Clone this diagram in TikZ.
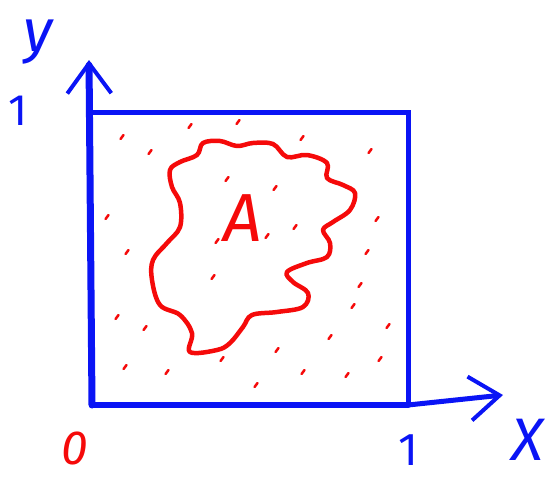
\documentclass[tikz,border=0pt]{standalone}
\usepackage{fontspec}
\newfontfamily\handfont{Fira Sans}
\usetikzlibrary{arrows.meta}
\definecolor{penblue}{HTML}{0A14F5}
\definecolor{penred}{HTML}{F50A0A}

\begin{document}
\begin{tikzpicture}[x=1pt, y=-1pt,
  axis/.style={penblue, line width=5pt, line cap=round,
    -{Straight Barb[length=30pt, width=44pt, line width=4pt]}},
  boxline/.style={penblue, line width=5pt, line cap=round},
  blob/.style={penred, line width=4.5pt, line join=round},
  speck/.style={penred, line width=2.5pt, line cap=round},
  handlabel/.style={font=\handfont\itshape, inner sep=0pt}]

\useasboundingbox (0,0) rectangle (555,479);

% Corners of the unit square
\coordinate (O)   at (92,405);
\coordinate (X1)  at (408,405);
\coordinate (Y1)  at (92,112);
\coordinate (XY1) at (408,112);
\coordinate (ytip) at (89,60);
\coordinate (xtip) at (503,395);

% Square
\draw[boxline] (Y1) -- (XY1) -- (X1);
\draw[boxline, line width=6pt] (O) -- (X1);

% Axes
\draw[axis, line width=7pt] (O) -- (ytip);
\draw[axis] (X1) -- (xtip);

% Random points in the square
\foreach \px/\py in {122/137, 150/152, 190/126, 238/122, 302/138, 370/151,
  227/179, 275/188, 107/217, 295/227, 377/219, 217/241, 267/236,
  127/252, 367/252, 213/277, 360/285, 353/306, 117/317, 145/328,
  388/326, 330/337, 277/350, 222/359, 380/359, 125/367, 167/372,
  303/372, 347/375, 256/385} {
  \draw[speck] (\px,\py) ++(-1.5,2) -- ++(3,-4);
}

% The set A
\draw[blob] plot[smooth cycle, tension=0.6] coordinates {
  (170,170) (180,162) (197,155) (203,143) (220,141) (237,146) (253,143)
  (273,144) (287,157) (307,155) (327,163) (327,178) (343,185) (355,193)
  (350,210) (333,222) (323,230) (330,243) (327,257) (307,263) (287,272)
  (293,282) (308,293) (303,307) (277,312) (252,315) (243,327) (230,343)
  (217,350) (190,352) (192,333) (180,315) (160,305) (152,280) (153,260)
  (167,243) (180,227) (180,203) (172,187)};

% Labels
\node[handlabel, penred, font=\handfont\itshape\fontsize{68}{68}\selectfont] (setA) at (243,218) {A};
\node[handlabel, penblue, font=\handfont\itshape\fontsize{60}{60}\selectfont] (ylab) at (38,42) {y};
\node[handlabel, penblue, font=\handfont\fontsize{44}{44}\selectfont] (yone) at (18,111) {1};
\node[handlabel, penred, font=\handfont\itshape\fontsize{48}{48}\selectfont] (zero) at (75,448) {0};
\node[handlabel, penblue, font=\handfont\fontsize{46}{46}\selectfont] (xone) at (408,450) {1};
\node[handlabel, penblue, font=\handfont\itshape\fontsize{60}{60}\selectfont] (xlab) at (528,440) {X};

\end{tikzpicture}
\end{document}
